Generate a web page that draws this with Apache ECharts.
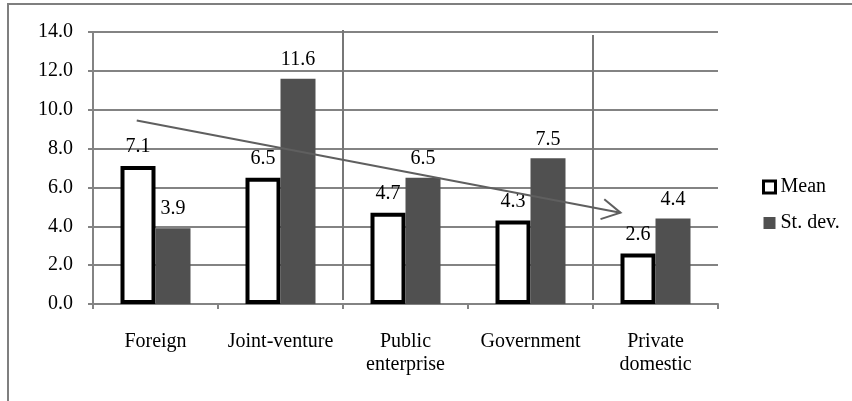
<!DOCTYPE html>
<html>
<head>
<meta charset="utf-8">
<script src="https://cdn.jsdelivr.net/npm/echarts@6/dist/echarts.min.js"></script>
<style>
  html, body { margin: 0; padding: 0; background: #fff; }
  #chart { width: 852px; height: 401px; }
</style>
</head>
<body>
<div id="chart"></div>
<script>
// Ownership categories and their statistics
const categories = ['Foreign', 'Joint-venture', 'Public\nenterprise', 'Government', 'Private\ndomestic'];
const meanValues = [7.1, 6.5, 4.7, 4.3, 2.6];
const stdevValues = [3.9, 11.6, 6.5, 7.5, 4.4];
const yTicks = { min: 0, max: 14, step: 2 };

// Trend arrow in data units (x measured in category widths from the left edge)
const trendArrow = [0.35, 9.45, 4.22, 4.7];
// Group separators at category boundaries: [x, top value, bottom value]
const separators = [[2, 14.1, 0.2], [4, 13.85, 0.2]];

const FONT = '"Liberation Serif", "Times New Roman", serif';
const GRID = '#838383';
const DARK = '#505050';

const chart = echarts.init(document.getElementById('chart'));

const valueLabel = {
  show: true,
  position: 'top',
  distance: 9,
  fontFamily: FONT,
  fontSize: 20,
  color: '#000',
  formatter: p => p.value.toFixed(1)
};

chart.setOption({
  animation: false,
  graphic: [{
    type: 'rect',
    shape: { x: 8, y: 4, width: 900, height: 500 },
    style: { fill: 'none', stroke: '#7f7f7f', lineWidth: 2 },
    silent: true
  }],
  grid: { left: 93, right: 134, top: 32, bottom: 97 },
  legend: {
    orient: 'vertical',
    left: 757,
    top: 172,
    itemWidth: 12,
    itemHeight: 12,
    itemGap: 16,
    icon: 'rect',
    textStyle: { fontFamily: FONT, fontSize: 20, color: '#000' },
    data: [
      { name: 'Mean', itemStyle: { color: '#fff', borderColor: '#000', borderWidth: 3 } },
      { name: 'St. dev.', itemStyle: { color: DARK, borderWidth: 0 } }
    ]
  },
  xAxis: [{
    type: 'category',
    data: categories,
    boundaryGap: true,
    axisLine: { lineStyle: { color: GRID, width: 2 } },
    axisTick: { show: true, length: 5, lineStyle: { color: GRID, width: 2 } },
    axisLabel: {
      fontFamily: FONT, fontSize: 20, color: '#000',
      lineHeight: 23, margin: 26, interval: 0
    }
  }, {
    type: 'value',
    min: 0,
    max: categories.length,
    show: false
  }],
  yAxis: {
    type: 'value',
    min: yTicks.min,
    max: yTicks.max,
    interval: yTicks.step,
    axisLine: { show: true, lineStyle: { color: GRID, width: 2 } },
    axisTick: { show: true, length: 5, lineStyle: { color: GRID, width: 2 } },
    splitLine: { lineStyle: { color: GRID, width: 2 } },
    axisLabel: {
      fontFamily: FONT, fontSize: 20, color: '#000', margin: 20,
      padding: [4, 0, 0, 0],
      formatter: v => v.toFixed(1)
    }
  },
  series: [{
    name: 'Mean',
    type: 'bar',
    data: meanValues,
    barWidth: 35,
    barGap: '0%',
    itemStyle: { color: '#fff', borderColor: '#000', borderWidth: 4 },
    label: valueLabel
  }, {
    name: 'St. dev.',
    type: 'bar',
    data: stdevValues,
    barWidth: 35,
    barGap: '0%',
    itemStyle: { color: DARK },
    label: valueLabel
  }, {
    name: 'separators',
    type: 'custom',
    xAxisIndex: 1,
    yAxisIndex: 0,
    silent: true,
    z: 3,
    data: separators,
    renderItem: (params, api) => {
      const top = api.coord([api.value(0), api.value(1)]);
      const bottom = api.coord([api.value(0), api.value(2)]);
      return {
        type: 'line',
        shape: { x1: top[0], y1: top[1], x2: bottom[0], y2: bottom[1] },
        style: { stroke: '#777', lineWidth: 2 }
      };
    }
  }, {
    name: 'trend',
    type: 'custom',
    xAxisIndex: 1,
    yAxisIndex: 0,
    silent: true,
    z: 4,
    data: [trendArrow],
    renderItem: (params, api) => {
      const a = api.coord([api.value(0), api.value(1)]);
      const b = api.coord([api.value(2), api.value(3)]);
      const ang = Math.atan2(b[1] - a[1], b[0] - a[0]);
      const len = 21, spread = 0.5;
      const arm = s => [b[0] - len * Math.cos(ang + s), b[1] - len * Math.sin(ang + s)];
      const style = { stroke: '#5f5f5f', lineWidth: 2, fill: 'none' };
      return {
        type: 'group',
        children: [
          { type: 'line', shape: { x1: a[0], y1: a[1], x2: b[0], y2: b[1] }, style },
          { type: 'polyline', shape: { points: [arm(spread), b, arm(-spread)] }, style }
        ]
      };
    }
  }]
});
</script>
</body>
</html>
